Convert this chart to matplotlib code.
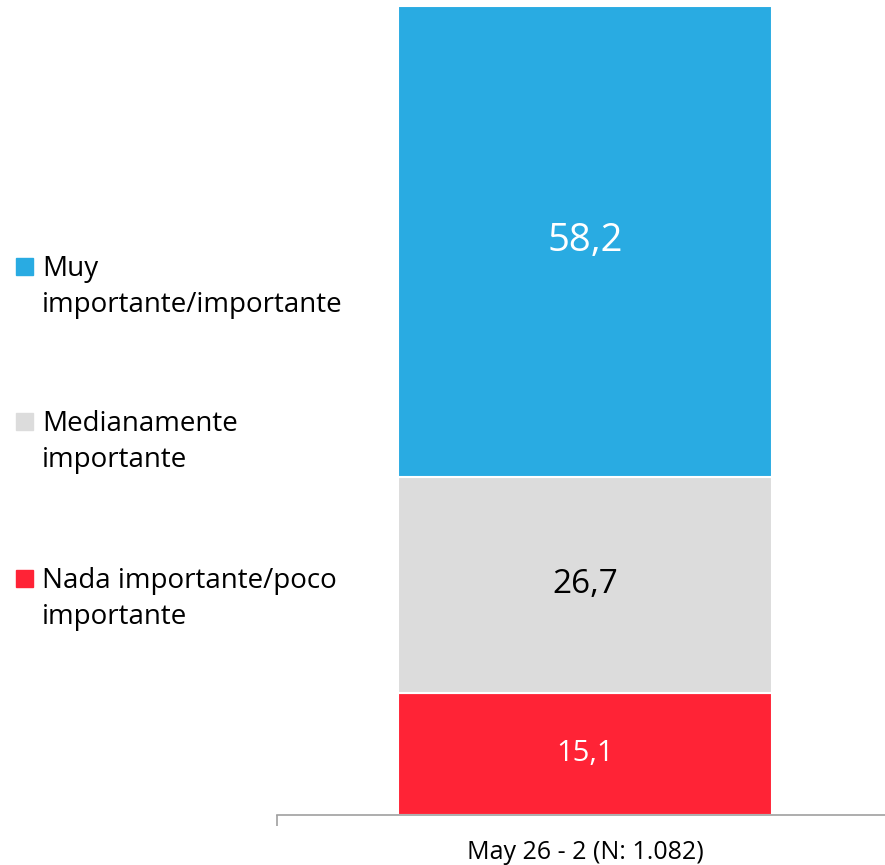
import matplotlib
matplotlib.use("Agg")
import matplotlib.pyplot as plt
from matplotlib.patches import Rectangle

plt.rcParams["font.family"] = ["Open Sans", "DejaVu Sans"]

# una sola barra apilada
categoria = "May 26 - 2 (N: 1.082)"
series = ["Muy\nimportante/importante", "Medianamente\nimportante", "Nada importante/poco\nimportante"]
valores = [58.2, 26.7, 15.1]
colores = ["#29ABE2", "#DCDCDC", "#FF2336"]
color_texto = ["white", "black", "white"]
tam_texto = [27.5, 24, 21]

W, H = 885, 865
fig = plt.figure(figsize=(W / 100, H / 100), dpi=100)
ax = fig.add_axes([277 / W, 50 / H, 616 / W, 809 / H])

# apilar de abajo hacia arriba: rojo, gris, azul
base = 0
for v, c, tc, fs in zip(valores[::-1], colores[::-1], color_texto[::-1], tam_texto[::-1]):
    ax.bar(0, v, bottom=base, width=0.607, color=c, edgecolor="white", linewidth=1.5)
    ax.text(0, base + v / 2, f"{v:.1f}".replace(".", ","), ha="center", va="center",
            color=tc, fontsize=fs)
    base += v

ax.set_xlim(-0.5, 0.5)
ax.set_ylim(0, 100)
for s in ["left", "right", "top"]:
    ax.spines[s].set_visible(False)
ax.spines["bottom"].set_color("#A0A0A0")
ax.spines["bottom"].set_linewidth(1.2)
ax.set_yticks([])
ax.set_xticks([0])
ax.set_xticklabels([categoria], fontsize=18)
ax.tick_params(axis="x", which="major", length=0, pad=18)
ax.set_xticks([-0.5], minor=True)
ax.tick_params(axis="x", which="minor", length=8, width=1.2, color="#A0A0A0", direction="out")

# leyenda a la izquierda, con el cuadro alineado a la primera línea
# (va="baseline" toma la última línea, que va 37 px por debajo)
baselines = [275, 430, 587]
for lab, c, y in zip(series, colores, baselines):
    fig.patches.append(Rectangle((16 / W, 1 - y / H), 17 / W, 17 / H,
                                 transform=fig.transFigure, color=c))
    fig.text(42 / W, 1 - (y + 37) / H, lab, ha="left", va="baseline", fontsize=20,
             linespacing=1.4)

fig.savefig("out.png", dpi=100)
